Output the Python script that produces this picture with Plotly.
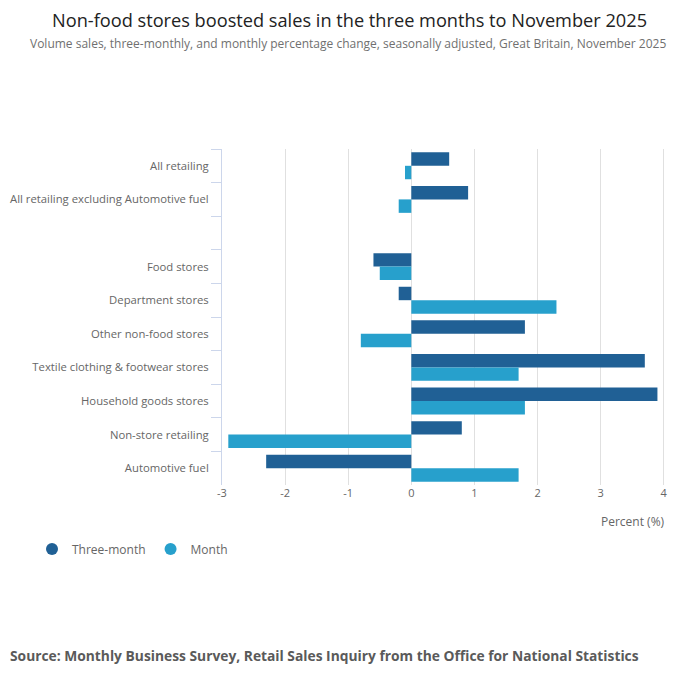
"""
Retail sales by store type: three-month and month percentage change, horizontal grouped bars.
"""

import plotly.graph_objects as go

categories = [
    "All retailing",
    "All retailing excluding Automotive fuel",
    " ",
    "Food stores",
    "Department stores",
    "Other non-food stores",
    "Textile clothing & footwear stores",
    "Household goods stores",
    "Non-store retailing",
    "Automotive fuel",
]
three_month = [0.6, 0.9, None, -0.6, -0.2, 1.8, 3.7, 3.9, 0.8, -2.3]
month = [-0.1, -0.2, None, -0.5, 2.3, -0.8, 1.7, 1.8, -2.9, 1.7]
x_ticks = [-3, -2, -1, 0, 1, 2, 3, 4]
x_ticktext = ["-3", "-2", "-1", "0", "1", "2", "3", "4"]

DARK = "#206095"
LIGHT = "#27a0cc"
FONT = "Open Sans"

# page has an 8px body margin, so the figure is drawn 8px in and down
OFF = 8
W, H = 700 - OFF, 682 - OFF
L, R, T, B = 222 - OFF, 35, 149 - OFF, 197


def py(y_screen):
    """screen pixel row -> paper y"""
    ph = H - T - B
    return (H - B - (y_screen - OFF)) / ph


def px(x_screen):
    pw = W - L - R
    return (x_screen - OFF - L) / pw


def build_fig():
    fig = go.Figure()
    for name, vals, col in [("Three-month", three_month, DARK), ("Month", month, LIGHT)]:
        fig.add_trace(go.Bar(x=vals, y=categories, orientation="h", name=name,
                             marker=dict(color=col, line=dict(width=0)),
                             showlegend=False, hoverinfo="x+y"))
    # circle legend entries
    for name, col in [("Three-month", DARK), ("Month", LIGHT)]:
        fig.add_trace(go.Scatter(x=[None], y=[None], mode="markers", name=name,
                                 marker=dict(color=col, size=12, symbol="circle")))

    fig.update_layout(
        width=W, height=H,
        margin=dict(l=L, r=R, t=T, b=B, autoexpand=False),
        plot_bgcolor="white", paper_bgcolor="white",
        font=dict(family=FONT, color="#666666", size=11),
        barmode="group", bargap=0.2, bargroupgap=0,
        legend=dict(orientation="h", xref="container", yref="container",
                    x=(52 - OFF - 20) / W, y=1 - (549 - OFF) / H,
                    xanchor="left", yanchor="middle",
                    font=dict(size=12, color="#666666"),
                    traceorder="normal"),
        showlegend=True,
    )
    fig.update_xaxes(range=[-3, 4.02], tickvals=x_ticks, ticktext=x_ticktext, showgrid=True,
                     gridcolor="#e0e0e0", gridwidth=1, zeroline=False, automargin=False,
                     showline=False, ticks="", tickfont=dict(size=11, color="#666666"))
    fig.update_yaxes(categoryorder="array", categoryarray=categories, autorange="reversed",
                     showline=True, linecolor="#ccd6eb", linewidth=1, automargin=False,
                     ticks="outside", tickson="boundaries", ticklen=10, tickcolor="#ccd6eb",
                     ticklabelstandoff=10,
                     showgrid=False, tickfont=dict(size=11.3, color="#666666"))

    fig.add_annotation(text="Non-food stores boosted sales in the three months to November 2025",
                       xref="paper", yref="paper", x=px(349), y=py(20),
                       xanchor="center", yanchor="middle", showarrow=False,
                       font=dict(size=18.2, color="#222222"))
    fig.add_annotation(text="Volume sales, three-monthly, and monthly percentage change, "
                            "seasonally adjusted, Great Britain, November 2025",
                       xref="paper", yref="paper", x=px(668), y=py(43),
                       xanchor="right", yanchor="middle", showarrow=False,
                       font=dict(size=12, color="#707070"))
    fig.add_annotation(text="Percent (%)", xref="paper", yref="paper", x=px(667), y=py(521),
                       xanchor="right", yanchor="middle", showarrow=False,
                       font=dict(size=12, color="#666666"))
    fig.add_annotation(text="<b>Source: Monthly Business Survey, Retail Sales Inquiry from the Office for National Statistics</b>",
                       xref="paper", yref="paper", x=px(641), y=py(655),
                       xanchor="right", yanchor="middle", showarrow=False,
                       font=dict(size=13.8, color="#5a5a5a"))
    return fig


if __name__ == "__main__":
    fig = build_fig()
    fig.write_html("out.html")
